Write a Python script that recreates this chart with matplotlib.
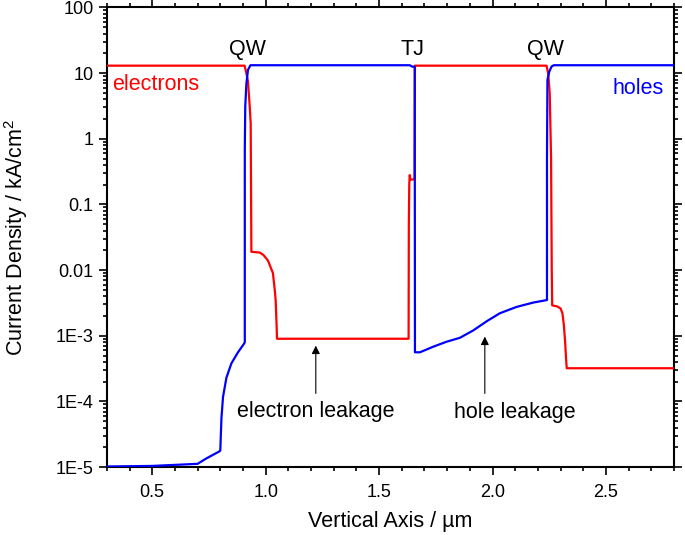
import matplotlib
matplotlib.use("Agg")
import matplotlib.pyplot as plt
from matplotlib.ticker import LogLocator, MultipleLocator, FixedLocator, NullFormatter

plt.rcParams["font.family"] = ["Liberation Sans", "DejaVu Sans"]
plt.rcParams["mathtext.fontset"] = "custom"
plt.rcParams["mathtext.rm"] = "Liberation Sans"
plt.rcParams["mathtext.it"] = "Liberation Sans:italic"

# ── data ──────────────────────────────────────────────────────────
elec_x = [0.30, 0.907, 0.915, 0.922, 0.930, 0.934, 0.937, 0.974, 0.990, 1.010,
          1.022, 1.032, 1.040, 1.044, 1.048, 1.050, 1.630, 1.631, 1.633, 1.635,
          1.638, 1.656, 1.658, 2.238, 2.245, 2.252, 2.258, 2.261, 2.263, 2.285,
          2.300, 2.308, 2.314, 2.320, 2.324, 2.327, 2.80]
elec_y = [13.0, 13.0, 10.0, 7.5, 3.0, 1.7, 0.019, 0.0185, 0.017, 0.014,
          0.011, 0.009, 0.005, 0.0035, 0.0015, 0.0009, 0.0009, 0.05, 0.21, 0.28,
          0.24, 0.24, 13.0, 13.0, 10.0, 5.0, 0.5, 0.01, 2.9e-3, 2.8e-3,
          2.6e-3, 2.2e-3, 1.5e-3, 8e-4, 4.5e-4, 3.2e-4, 3.2e-4]

hole_x = [0.30, 0.50, 0.70, 0.738, 0.797, 0.800, 0.805, 0.812, 0.827, 0.849,
          0.878, 0.905, 0.908, 0.908, 0.910, 0.915, 0.922, 0.933, 1.635, 1.645,
          1.657, 1.658, 1.680, 1.738, 1.797, 1.856, 1.914, 1.974, 2.032, 2.106,
          2.179, 2.240, 2.240, 2.242, 2.250, 2.260, 2.270, 2.80]
hole_y = [1.02e-5, 1.04e-5, 1.12e-5, 1.35e-5, 1.74e-5, 1.8e-5, 5.5e-5, 1.17e-4, 2.3e-4, 3.8e-4,
          5.6e-4, 7.6e-4, 8.0e-4, 0.68, 3.1, 6.9, 11.2, 13.2, 13.2, 12.6,
          12.5, 5.6e-4, 5.6e-4, 6.8e-4, 8.1e-4, 9.3e-4, 1.2e-3, 1.66e-3, 2.2e-3, 2.75e-3,
          3.2e-3, 3.5e-3, 0.5, 7.9, 10.5, 12.6, 13.2, 13.2]

y_ticks = [1e-5, 1e-4, 1e-3, 1e-2, 1e-1, 1, 10, 100]
y_tick_labels = ["1E-5", "1E-4", "1E-3", "0.01", "0.1", "1", "10", "100"]

# ── figure ────────────────────────────────────────────────────────
fig = plt.figure(figsize=(6.85, 5.35), dpi=100)
ax = fig.add_axes([0.156, 0.127, 0.828, 0.859])

ax.semilogy(elec_x, elec_y, color="#ff0000", lw=1.6, zorder=3)
ax.semilogy(hole_x, hole_y, color="#0000ff", lw=1.6, zorder=3)

ax.set_xlim(0.3, 2.8)
ax.set_ylim(1e-5, 100)

ax.xaxis.set_major_locator(MultipleLocator(0.5))
ax.xaxis.set_minor_locator(MultipleLocator(0.1))
ax.yaxis.set_major_locator(FixedLocator(y_ticks))
ax.set_yticklabels(y_tick_labels)
ax.yaxis.set_minor_locator(LogLocator(base=10, subs=range(2, 10), numticks=20))
ax.yaxis.set_minor_formatter(NullFormatter())

for s in ax.spines.values():
    s.set_linewidth(1.5)
ax.tick_params(which="both", direction="out", top=True, right=True,
               labelsize=13, width=1.2)
ax.tick_params(which="major", length=6)
ax.tick_params(which="minor", length=3)
ax.tick_params(axis="x", which="major", pad=6)

ax.set_xlabel("Vertical Axis / µm", fontsize=15.5)
ax.set_ylabel("Current Density / kA/cm$^2$", fontsize=15.5)
ax.xaxis.set_label_coords(0.5, -0.095)
ax.yaxis.set_label_coords(-0.136, 0.5)

# ── annotations ───────────────────────────────────────────────────
fs = 15.5
ax.text(0.92, 23, "QW", fontsize=fs, ha="center", va="center")
ax.text(1.648, 23, "TJ", fontsize=fs, ha="center", va="center")
ax.text(2.235, 23, "QW", fontsize=fs, ha="center", va="center")
ax.text(0.325, 6.6, "electrons", fontsize=fs, color="#ff0000", ha="left", va="center")
ax.text(2.755, 5.9, "holes", fontsize=fs, color="#0000ff", ha="right", va="center")

ax.annotate("", xy=(1.221, 7.8e-4), xytext=(1.221, 1.2e-4),
            arrowprops=dict(arrowstyle="-|>", color="black", lw=0.8, mutation_scale=12))
ax.text(1.22, 6.9e-5, "electron leakage", fontsize=fs, ha="center", va="center")

ax.annotate("", xy=(1.966, 1.07e-3), xytext=(1.966, 1.2e-4),
            arrowprops=dict(arrowstyle="-|>", color="black", lw=0.8, mutation_scale=12))
ax.text(2.098, 6.8e-5, "hole leakage", fontsize=fs, ha="center", va="center")

fig.savefig("out.png", dpi=100, facecolor="white")
